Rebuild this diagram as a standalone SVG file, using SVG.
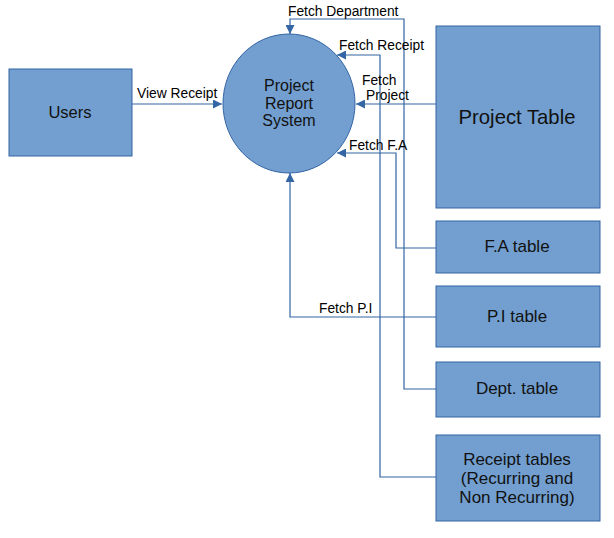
<svg xmlns="http://www.w3.org/2000/svg" width="614" height="538" viewBox="0 0 614 538">
<defs>
<style>
.node{fill:#729fcf;stroke:#3465a4;stroke-width:1}
.t{font-family:"Liberation Sans",Arial,sans-serif;fill:#111;text-anchor:middle}
.lbl{font-family:"Liberation Sans",Arial,sans-serif;fill:#000;font-size:13.8px}
.c{fill:none;stroke:#3465a4;stroke-width:1.2}
</style>
<marker id="ah" viewBox="0 0 10 10" refX="10" refY="5" markerWidth="10" markerHeight="9" markerUnits="userSpaceOnUse" orient="auto">
<path d="M0,0 L10,5 L0,10 z" fill="#3465a4"/>
</marker>
</defs>
<rect width="614" height="538" fill="#ffffff"/>
<g id="connectors">
<path class="c" d="M132,104 L222,104" marker-end="url(#ah)"/>
<path class="c" d="M436,104 L356,104" marker-end="url(#ah)"/>
<path class="c" d="M436,389 L404,389 L404,19 L290,19 L290,34" marker-end="url(#ah)"/>
<path class="c" d="M436,477 L380,477 L380,55 L337,55" marker-end="url(#ah)"/>
<path class="c" d="M436,248 L396,248 L396,153 L337,153" marker-end="url(#ah)"/>
<path class="c" d="M436,317 L290,317 L290,173" marker-end="url(#ah)"/>
<text class="lbl" x="137" y="98">View Receipt</text>
<text class="lbl" x="288" y="16">Fetch Department</text>
<text class="lbl" x="339" y="50">Fetch Receipt</text>
<text class="lbl" x="362" y="85">Fetch</text>
<text class="lbl" x="366" y="100">Project</text>
<text class="lbl" x="349" y="150">Fetch F.A</text>
<text class="lbl" x="319" y="313">Fetch P.I</text>
</g>
<g id="users">
<rect class="node" x="9" y="69" width="123" height="87"/>
<text class="t" x="70" y="118" font-size="16.5">Users</text>
</g>
<g id="system">
<ellipse class="node" cx="289" cy="103.5" rx="66" ry="69.5"/>
<text class="t" x="289" y="91" font-size="16">Project</text>
<text class="t" x="289" y="108.5" font-size="16">Report</text>
<text class="t" x="289" y="126" font-size="16">System</text>
</g>
<g id="project-table">
<rect class="node" x="436" y="26" width="164" height="182"/>
<text class="t" x="517" y="124" font-size="20.3">Project Table</text>
</g>
<g id="fa-table">
<rect class="node" x="436" y="221" width="164" height="52"/>
<text class="t" x="517" y="252" font-size="17">F.A table</text>
</g>
<g id="pi-table">
<rect class="node" x="436" y="286" width="164" height="61"/>
<text class="t" x="517" y="322" font-size="17">P.I table</text>
</g>
<g id="dept-table">
<rect class="node" x="436" y="362" width="164" height="55"/>
<text class="t" x="517" y="394" font-size="17">Dept. table</text>
</g>
<g id="receipt-tables">
<rect class="node" x="436" y="435" width="164" height="86"/>
<text class="t" x="517" y="465" font-size="17">Receipt tables</text>
<text class="t" x="517" y="484" font-size="17">(Recurring and</text>
<text class="t" x="517" y="503" font-size="17">Non Recurring)</text>
</g>
</svg>
